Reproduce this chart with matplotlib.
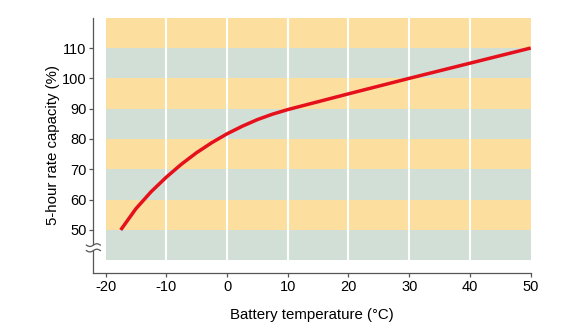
import matplotlib.pyplot as plt
import numpy as np
from matplotlib.transforms import blended_transform_factory

plt.rcParams['font.family'] = ['Liberation Sans', 'DejaVu Sans']

# curve
temp = [-17.5, -15, -12.5, -10, -7.5, -5, -2.5, 0, 2.5, 5, 7.5, 10, 12.5, 15, 20, 30, 40, 50]
capacity = [50, 57.0, 62.6, 67.4, 71.7, 75.5, 78.8, 81.7, 84.2, 86.4, 88.2, 89.7,
            91.0, 92.3, 94.9, 100, 105.0, 110]

band_edges = [40, 50, 60, 70, 80, 90, 100, 110, 120]
band_colors = ['#d1dfd6', '#fcdf9e']
xticks = [-20, -10, 0, 10, 20, 30, 40, 50]
xticklabels = ['-20', '-10', '0', '10', '20', '30', '40', '50']
yticks = [50, 60, 70, 80, 90, 100, 110]
vlines = [-10, 0, 10, 20, 30, 40]

fig = plt.figure(figsize=(5.8, 3.3), dpi=100)
ax = fig.add_axes([0.161, 0.1727, 0.754, 0.7736])

# horizontal bands
for i in range(len(band_edges) - 1):
    ax.fill_between([-20, 50], band_edges[i], band_edges[i + 1],
                    color=band_colors[i % 2], lw=0, zorder=0)
for v in vlines:
    ax.plot([v, v], [band_edges[0], band_edges[-1]], color='white', lw=1.5, zorder=1)

ax.plot(temp, capacity, color='#e5101c', lw=2.5, solid_capstyle='butt',
        solid_joinstyle='round', zorder=3)

ax.set_xlim(-22, 50)
ax.set_ylim(35.8, 120)
ax.set_xticks(xticks)
ax.set_xticklabels(xticklabels)
ax.set_yticks(yticks)
ax.tick_params(labelsize=10.5, color='#555555', length=3, width=0.9, pad=2)
for s in ['top', 'right']:
    ax.spines[s].set_visible(False)
for s in ['left', 'bottom']:
    ax.spines[s].set_color('#555555')
    ax.spines[s].set_linewidth(0.9)

ax.set_xlabel('Battery temperature (°C)', fontsize=10.8, labelpad=10)
ax.set_ylabel('5-hour rate capacity (%)', fontsize=10.8, labelpad=1.5)

# axis break on the y spine
tr = blended_transform_factory(ax.transAxes, ax.transData)
ax.fill_between([-0.02, 0.02], 43.2, 45.0, color='white', transform=tr,
                clip_on=False, zorder=5, lw=0)
t = np.linspace(-0.016, 0.016, 40)
for y0 in [43.2, 45.0]:
    ax.plot(t, y0 + 0.45 * np.sin(t / 0.016 * np.pi), color='#555555', lw=0.9,
            transform=tr, clip_on=False, zorder=6)

fig.savefig('out.png', dpi=100)
